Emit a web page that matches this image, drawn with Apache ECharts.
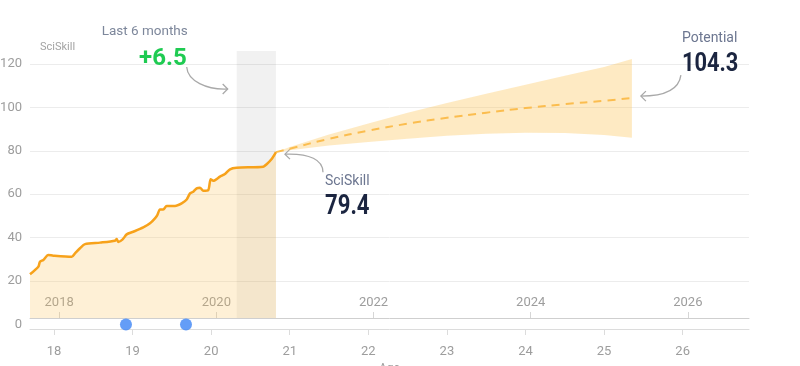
<!DOCTYPE html>
<html><head><meta charset="utf-8">
<script src="https://cdn.jsdelivr.net/npm/echarts@6/dist/echarts.min.js"></script>
<style>html,body{margin:0;padding:0;background:#fff}#c{width:800px;height:366px}</style>
</head><body><div id="c"></div>
<script>
// ---------- data ----------
const ageTicks = [18, 19, 20, 21, 22, 23, 24, 25, 26];
const yearTicks = [2018, 2020, 2022, 2024, 2026];
const yLabelTicks = [0, 20, 40, 60, 80, 100, 120];
const yGridTicks = [20, 40, 60, 80, 100, 120];

const skillAges = [17.695, 17.801, 17.822, 17.864, 17.928, 17.991, 18.226, 18.268, 18.331, 18.395,
  18.586, 18.776, 18.798, 18.818, 18.874, 18.925, 19.009, 19.136, 19.222, 19.285,
  19.315, 19.349, 19.391, 19.434, 19.540, 19.625, 19.689, 19.731, 19.773, 19.816,
  19.858, 19.900, 19.963, 19.994, 20.027, 20.112, 20.176, 20.240, 20.325, 20.663,
  20.706, 20.770, 20.825];
const skillValues = [23.1, 26.6, 28.9, 29.7, 32.0, 31.7, 31.2, 32.8, 35.1, 37.0,
  37.7, 38.6, 39.4, 38.0, 39.2, 41.5, 42.7, 44.7, 46.6, 48.9,
  50.4, 53.0, 53.0, 54.6, 54.6, 55.8, 57.6, 60.4, 61.2, 62.7,
  63.0, 61.6, 61.9, 66.9, 66.2, 68.1, 69.3, 71.5, 72.2, 72.7,
  73.8, 76.2, 79.4];

const projAges  = [20.825, 21.0, 21.5, 22.0, 22.5, 23.0, 23.5, 24.0, 24.5, 25.0, 25.354];
const projMid   = [79.4, 81.0, 85.5, 89.3, 92.5, 95.2, 97.6, 99.7, 101.5, 103.1, 104.3];
const projUpper = [79.4, 81.8, 87.5, 92.6, 97.5, 102.0, 106.3, 110.5, 114.6, 118.6, 122.3];
const projLower = [79.4, 80.3, 82.5, 84.1, 85.6, 87.0, 87.9, 88.3, 88.2, 87.3, 86.0];

const eventAges = [18.916, 19.680];
const eventValues = [0, 0];

const lastSixMonths = [20.325, 20.825];
const changeLabel = '+6.5';
const currentLabel = '79.4';
const potentialLabel = '104.3';

// ---------- layout ----------
const W = 800, H = 366;
const gLeft = 30, gRight = 51, gTop = 51, gBottom0 = 37, gBottom1 = 48;
const ageMin = 17.695, ageMax = 26.844, yearShift = 1999.934;
const yMin0 = -2.1, yMax = 126;
const h0 = H - gTop - gBottom0, h1 = H - gTop - gBottom1;
const yMin1 = yMax - (yMax - yMin0) * h1 / h0;

const plain = "'Roboto', 'Noto Sans', sans-serif";
const axisGray = '#9d9d9d';
const orange = '#f7a21b';
const fillOrange = 'rgba(252,196,90,0.36)';

const chart = echarts.init(document.getElementById('c'), null, {renderer: 'canvas'});

chart.setOption({
  animation: false,
  grid: [
    {left: gLeft, right: gRight, top: gTop, bottom: gBottom0, containLabel: false, outerBoundsMode: 'none'},
    {left: gLeft, right: gRight, top: gTop, bottom: gBottom1, containLabel: false, outerBoundsMode: 'none'}
  ],
  xAxis: [
    { // age axis, grid 0
      type: 'value', gridIndex: 0, position: 'bottom', min: ageMin, max: ageMax,
      name: 'Age', nameLocation: 'middle', nameGap: 33,
      nameTextStyle: {color: axisGray, fontSize: 12, fontFamily: plain},
      axisLine: {show: true, onZero: false, lineStyle: {color: '#dcdcdc', width: 1}},
      axisTick: {show: true, length: 6, customValues: ageTicks, lineStyle: {color: '#dcdcdc'}},
      axisLabel: {customValues: ageTicks, color: axisGray, fontSize: 13, fontFamily: plain, margin: 16},
      splitLine: {show: false}
    },
    { // hidden age axis for grid 1
      type: 'value', gridIndex: 1, position: 'top', min: ageMin, max: ageMax, show: false
    },
    { // year axis, grid 1
      type: 'value', gridIndex: 1, position: 'bottom', min: ageMin + yearShift, max: ageMax + yearShift,
      axisLine: {show: true, onZero: false, lineStyle: {color: '#cfcfcf', width: 1}},
      axisTick: {show: true, inside: true, length: 6, customValues: yearTicks, lineStyle: {color: '#d6d6d6'}},
      axisLabel: {inside: true, customValues: yearTicks, color: axisGray, fontSize: 13, fontFamily: plain, margin: 9,
        formatter: v => String(Math.round(v))},
      splitLine: {show: false}
    }
  ],
  yAxis: [
    {
      type: 'value', gridIndex: 0, min: yMin0, max: yMax,
      name: 'SciSkill', nameLocation: 'end', nameGap: -2,
      nameTextStyle: {color: '#a3a3a3', fontSize: 11, fontFamily: plain, align: 'left', verticalAlign: 'bottom', padding: [0, 0, 0, 10]},
      axisLine: {show: false},
      axisTick: {show: false, customValues: yGridTicks},
      axisLabel: {customValues: yLabelTicks, color: axisGray, fontSize: 13, fontFamily: plain, margin: 8},
      splitLine: {show: true, lineStyle: {color: '#ececec', width: 1}}
    },
    {
      type: 'value', gridIndex: 1, min: yMin1, max: yMax, show: false,
      splitLine: {show: false}
    }
  ],
  series: [
    {
      name: 'range', type: 'custom', xAxisIndex: 1, yAxisIndex: 1, silent: true, z: 1,
      data: projAges.map((a, i) => [a, projUpper[i], projLower[i]]),
      encode: {x: 0, y: [1, 2]},
      renderItem: function (params, api) {
        if (params.dataIndexInside !== 0) return null;
        const pts = [];
        for (let i = 0; i < projAges.length; i++) pts.push(api.coord([projAges[i], projUpper[i]]));
        for (let i = projAges.length - 1; i >= 0; i--) pts.push(api.coord([projAges[i], projLower[i]]));
        return {type: 'polygon', shape: {points: pts}, style: {fill: fillOrange}};
      }
    },
    {
      name: 'SciSkill', type: 'line', xAxisIndex: 1, yAxisIndex: 1, z: 3,
      data: skillAges.map((a, i) => [a, skillValues[i]]),
      showSymbol: false, smooth: 0.25,
      lineStyle: {color: orange, width: 2.5},
      itemStyle: {color: orange},
      areaStyle: {color: fillOrange, origin: 'start'},
      markArea: {
        silent: true,
        itemStyle: {color: 'rgba(0,0,0,0.055)'},
        data: [[{xAxis: lastSixMonths[0]}, {xAxis: lastSixMonths[1]}]]
      }
    },
    {
      name: 'Potential', type: 'line', xAxisIndex: 1, yAxisIndex: 1, z: 3,
      data: projAges.map((a, i) => [a, projMid[i]]),
      showSymbol: false, smooth: true,
      lineStyle: {color: '#fbbd4f', width: 2, type: [8, 6]}
    },
    {
      name: 'events', type: 'scatter', xAxisIndex: 0, yAxisIndex: 0, z: 5,
      data: eventAges.map((a, i) => [a, eventValues[i]]),
      symbolSize: 12, itemStyle: {color: '#3d85f5'}
    }
  ]
});

// ---------- annotations anchored on data ----------
const last = chart.convertToPixel({xAxisIndex: 1, yAxisIndex: 1}, [skillAges[skillAges.length - 1], skillValues[skillValues.length - 1]]);
const end = chart.convertToPixel({xAxisIndex: 1, yAxisIndex: 1}, [projAges[projAges.length - 1], projMid[projMid.length - 1]]);
const bandL = chart.convertToPixel({xAxisIndex: 1, yAxisIndex: 1}, [lastSixMonths[0], yMax]);

const arrowStyle = {stroke: '#a9a9a9', lineWidth: 1.3, fill: null};
function curve(x1, y1, c1x, c1y, c2x, c2y, x2, y2) {
  return {type: 'bezierCurve', silent: true,
    shape: {x1: x1, y1: y1, cpx1: c1x, cpy1: c1y, cpx2: c2x, cpy2: c2y, x2: x2, y2: y2},
    style: arrowStyle};
}
function head(tx, ty, dir) {
  return {type: 'polyline', silent: true,
    shape: {points: [[tx - dir * 5, ty - 5], [tx, ty], [tx - dir * 5, ty + 5]]},
    style: arrowStyle};
}
function txt(x, y, text, size, color, weight, align, sx) {
  return {type: 'text', silent: true, x: x, y: y, scaleX: sx || 1,
    style: {text: text, fontSize: size, fill: color, fontWeight: weight, align: align, verticalAlign: 'middle', fontFamily: plain}};
}

const bx = bandL[0], by = bandL[1];
const sx = last[0], sy = last[1];
const px = end[0], py = end[1];

chart.setOption({
  graphic: [
    txt(bx - 92, by - 19, 'Last 6 months', 13.5, '#7d879b', 'normal', 'center'),
    txt(bx - 50, by + 8, changeLabel, 24, '#1fcb52', 'bold', 'right'),
    curve(bx - 50, by + 16, bx - 49, by + 30, bx - 30, by + 39, bx - 9, by + 38),
    head(bx - 9, by + 38, 1),

    txt(sx + 49, sy + 29.5, 'SciSkill', 14, '#6c7690', 'normal', 'left'),
    txt(sx + 49, sy + 55, currentLabel, 27, '#1b2540', 'bold', 'left', 0.82),
    curve(sx + 47, sy + 20, sx + 47, sy + 8, sx + 34, sy + 1, sx + 9, sy + 2),
    head(sx + 9, sy + 2, -1),

    txt(px + 50, py - 60, 'Potential', 14, '#6c7690', 'normal', 'left'),
    txt(px + 50, py - 34, potentialLabel, 26, '#1b2540', 'bold', 'left', 0.84),
    curve(px + 49, py - 23, px + 47, py - 8, px + 33, py - 2, px + 9, py - 2),
    head(px + 9, py - 2, -1)
  ]
});
</script>
</body></html>
